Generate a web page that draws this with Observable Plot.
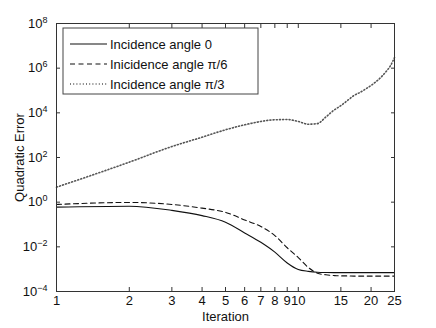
<!DOCTYPE html>
<html>
<head>
<meta charset="utf-8">
<script src="https://cdn.jsdelivr.net/npm/d3@7"></script>
<script src="https://cdn.jsdelivr.net/npm/@observablehq/plot@0.6"></script>
<style>
  html, body { margin: 0; padding: 0; background: #fff; }
  #chart { position: relative; width: 436px; height: 328px; }
</style>
</head>
<body>
<div id="chart"></div>
<script>
const iterations = [1,2,3,4,5,6,7,8,9,10,11,12,13,14,15,16,17,18,19,20,21,22,23,24,25];
const angle0 = [0.60,0.66,0.43,0.25,0.126,0.042,0.016,0.0058,0.0019,0.00097,0.00080,0.00073,0.00071,0.00070,0.00070,0.00070,0.00070,0.00070,0.00070,0.00070,0.00070,0.00070,0.00070,0.00070,0.00070];
const anglePi6 = [0.79,0.97,0.79,0.54,0.35,0.16,0.081,0.032,0.0091,0.0033,0.0012,0.00066,0.00056,0.00052,0.00050,0.00050,0.00049,0.00049,0.00049,0.00049,0.00049,0.00049,0.00049,0.00049,0.00049];
const anglePi3 = [4.7,62,310,810,1740,2900,4100,4900,5000,4100,3100,3300,6500,12800,21000,36000,60000,82000,117000,168000,253000,395000,676000,1230000,3000000];
const seriesNames = ["Incidence angle 0", "Inicidence angle \u03c0/6", "Incidence angle \u03c0/3"];
const xTicks = [1,2,3,4,5,6,7,8,9,10,15,20,25];
const yTicks = [1e-4,1e-2,1e0,1e2,1e4,1e6,1e8];
const xLabel = "Iteration";
const yLabel = "Quadratic Error";

const styles = [
  {stroke: "#111", strokeWidth: 1.1, strokeDasharray: null},
  {stroke: "#111", strokeWidth: 1.1, strokeDasharray: "5,3.5"},
  {stroke: "#555", strokeWidth: 1.6, strokeDasharray: "1,2.2"}
];
const allSeries = [angle0, anglePi6, anglePi3];
const rows = [];
allSeries.forEach((vals, s) => vals.forEach((v, i) => rows.push({iter: iterations[i], value: v, series: seriesNames[s]})));

const font = "Liberation Sans, Arial, Helvetica, sans-serif";
const axisColor = "#333";

const lineMarks = allSeries.map((vals, s) =>
  Plot.line(rows.filter(d => d.series === seriesNames[s]), {
    x: "iter", y: "value", curve: "monotone-x",
    stroke: styles[s].stroke, strokeWidth: styles[s].strokeWidth,
    strokeDasharray: styles[s].strokeDasharray
  })
);

const chart = Plot.plot({
  width: 436,
  height: 328,
  marginLeft: 56,
  marginRight: 42,
  marginTop: 23,
  marginBottom: 37,
  style: {fontFamily: font, fontSize: "13px", color: "#111", background: "#fff"},
  x: {type: "log", domain: [1, 25]},
  y: {type: "log", domain: [1e-4, 1e8]},
  marks: [
    ...lineMarks,
    Plot.frame({stroke: axisColor, strokeWidth: 1}),
    Plot.axisX(xTicks, {anchor: "bottom", tickSize: -4, text: null, stroke: axisColor, label: null}),
    Plot.axisX(xTicks, {anchor: "top", tickSize: -4, text: null, stroke: axisColor, label: null}),
    Plot.text(xTicks, {x: d => d, text: d => String(d), frameAnchor: "bottom", lineAnchor: "top", dy: 4, fill: "#111"}),
    Plot.axisX(xTicks, {anchor: "bottom", tickSize: 0, text: null,
      label: xLabel, labelAnchor: "center", labelOffset: 29, labelArrow: "none"}),
    Plot.axisY(yTicks, {anchor: "left", tickSize: -4, text: null, stroke: axisColor, label: null}),
    Plot.axisY(yTicks, {anchor: "right", tickSize: -4, text: null, stroke: axisColor, label: null}),
    Plot.axisY(yTicks, {anchor: "left", tickSize: 0, tickPadding: 9, fill: "#111",
      tickFormat: d => "10^" + Math.round(Math.log10(d)),
      label: yLabel, labelAnchor: "center", labelOffset: 42, labelArrow: "none"})
  ]
});

document.getElementById("chart").appendChild(chart);

const svg = d3.select(chart.tagName.toLowerCase() === "svg" ? chart : chart.querySelector("svg"));
svg.selectAll("text").each(function() {
  const t = this.textContent;
  const m = /^10\^(-?\d+)$/.exec(t);
  if (m) {
    const el = d3.select(this);
    el.text(null);
    el.append("tspan").text("10");
    el.append("tspan").attr("dy", "-0.55em").attr("font-size", "9px").text(m[1].replace("-", "\u2212"));
  }
});

// legend inside the plot area
const legend = svg.append("g").attr("font-family", font).attr("font-size", "13px").attr("text-anchor", "start");
const lx = 63, ly = 28, lw = 195, lh = 66;
legend.append("rect").attr("x", lx).attr("y", ly).attr("width", lw).attr("height", lh)
  .attr("fill", "#fff").attr("stroke", "#444").attr("stroke-width", 1);
seriesNames.forEach((name, i) => {
  const cy = ly + 16 + i * 20;
  legend.append("line").attr("x1", lx + 7).attr("x2", lx + 44).attr("y1", cy).attr("y2", cy)
    .attr("stroke", styles[i].stroke).attr("stroke-width", styles[i].strokeWidth)
    .attr("stroke-dasharray", styles[i].strokeDasharray);
  legend.append("text").attr("x", lx + 47).attr("y", cy).attr("dy", "0.35em")
    .attr("text-anchor", "start").attr("fill", "#111").text(name);
});
</script>
</body>
</html>
